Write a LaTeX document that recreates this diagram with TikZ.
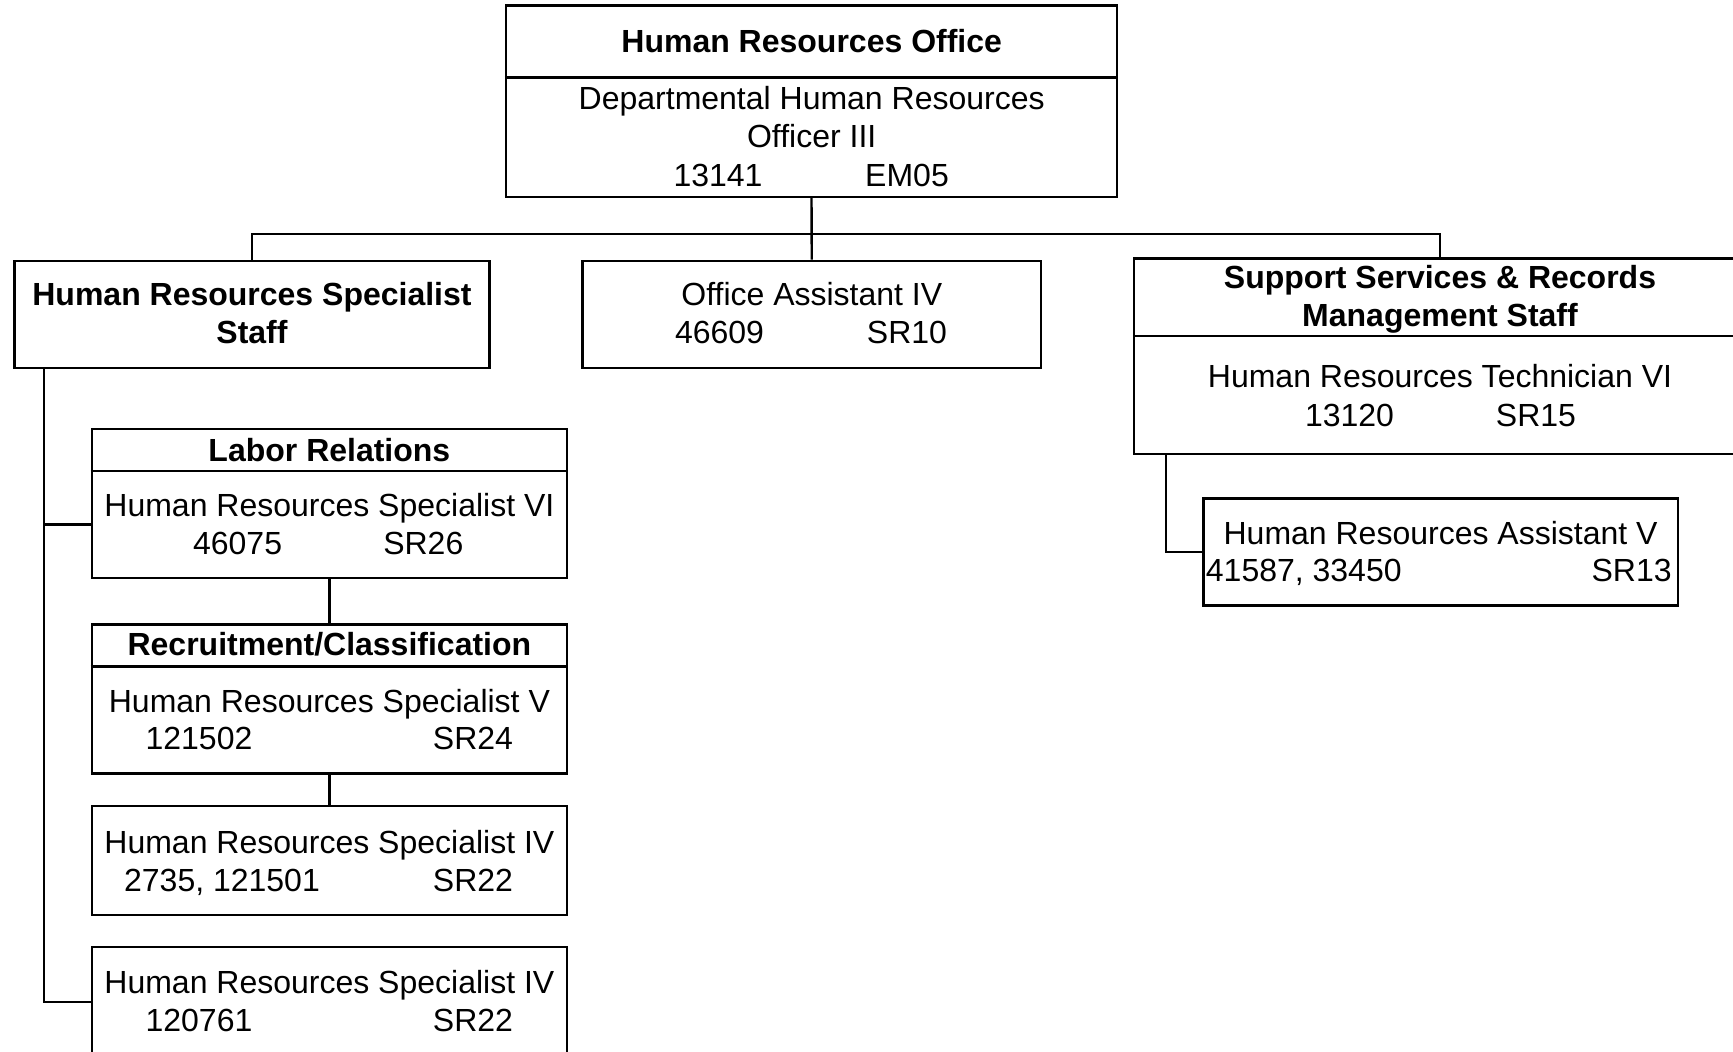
\documentclass[tikz,border=0pt]{standalone}
\usepackage{fontspec}
\setmainfont{Liberation Sans}
\usetikzlibrary{fit}
\begin{document}
\begin{tikzpicture}[x=0.5pt,y=-0.5pt,
  box/.style={draw,line width=1.2pt,inner sep=0pt,rectangle},
  conn/.style={line width=1.2pt},
  t/.style={inner sep=0pt,text height=0.72em,text depth=0pt,yshift=-2.2pt,font=\fontsize{16}{19}\selectfont},
  tb/.style={t,font=\fontsize{16}{19}\selectfont\bfseries},
  tl/.style={t,anchor=west},
  tr/.style={t,anchor=east}]
\clip (0,0) rectangle (1733,1052);
\fill[white] (0,0) rectangle (1733,1052);

% boxes
\node[box,fit={(506,5.5) (1117,197)}] (top) {};
\node[box,fit={(14.4,260.8) (489.6,368)}] (hrs) {};
\node[box,fit={(582.4,260.8) (1041.1,368)}] (oa) {};
\node[box,fit={(1134,258.6) (1746,454.2)}] (sup) {};
\node[box,fit={(91.7,428.8) (567,578)}] (lab) {};
\node[box,fit={(91.7,624.4) (567,773.6)}] (rec) {};
\node[box,fit={(91.7,805.7) (567,915.1)}] (iv) {};
\node[box,fit={(91.7,947.2) (567,1056.6)}] (last) {};
\node[box,fit={(1203.6,498.4) (1677.7,605.7)}] (asst) {};

% dividers
\draw[conn] (top.west |- 0,77.4) -- (top.east |- 0,77.4);
\draw[conn] (sup.west |- 0,336) -- (sup.east |- 0,336);
\draw[conn] (lab.west |- 0,470.8) -- (lab.east |- 0,470.8);
\draw[conn] (rec.west |- 0,666.4) -- (rec.east |- 0,666.4);

% connectors
\coordinate (bus) at (812,234.3);
\draw[conn] (top.south) -- (oa.north);
\draw[conn] (hrs.north) |- (bus) -| (sup.north);
\coordinate (spine) at (44.2,0);
\coordinate (labin) at (0,524.4);
\draw[conn] (hrs.south -| spine) |- (last.west);
\draw[conn] (spine |- labin) -- (lab.west |- labin);
\draw[conn] (lab.south) -- (rec.north);
\draw[conn] (rec.south) -- (iv.north);
\coordinate (sspine) at (1166,0);
\draw[conn] (sup.south -| sspine) |- (asst.west);

% texts
\node[tb] (t1) at (811.7,41) {Human Resources Office};
\node[t] (t2) at (811.7,98.4) {Departmental Human Resources};
\node[t] (t3) at (811.7,136) {Officer III};
\node[t] (t4) at (718,174.6) {13141};
\node[t] (t5) at (907,174.6) {EM05};

\node[tb] (h1) at (252,294) {Human Resources Specialist};
\node[tb] (h2) at (252,331.6) {Staff};

\node[t] (o1) at (811.8,294) {Office Assistant IV};
\node[t] (o2) at (719.5,331.6) {46609};
\node[t] (o3) at (907,331.6) {SR10};

\node[tb] (s1) at (1440,277.4) {Support Services \& Records};
\node[tb] (s2) at (1440,315) {Management Staff};
\node[t] (s3) at (1440,375.8) {Human Resources Technician VI};
\node[t] (s4) at (1349.5,414.5) {13120};
\node[t] (s5) at (1536,414.5) {SR15};

\node[t] (a1) at (1440.6,532.7) {Human Resources Assistant V};
\node[tl] (a2) at (1205.5,570.3) {41587, 33450};
\node[tr] (a3) at (1672,570.3) {SR13};

\node[tb] (l1) at (329.4,449.8) {Labor Relations};
\node[t] (l2) at (329.4,505) {Human Resources Specialist VI};
\node[t] (l3) at (237.6,542.7) {46075};
\node[t] (l4) at (423.3,542.7) {SR26};

\node[tb] (r1) at (329.4,644.3) {Recruitment/Classification};
\node[t] (r2) at (329.4,700.7) {Human Resources Specialist V};
\node[t] (r3) at (199,738.3) {121502};
\node[t] (r4) at (473,738.3) {SR24};

\node[t] (i1) at (329.4,842.2) {Human Resources Specialist IV};
\node[t] (i2) at (222,879.7) {2735, 121501};
\node[t] (i3) at (473,879.7) {SR22};

\node[t] (q1) at (329.4,981.4) {Human Resources Specialist IV};
\node[t] (q2) at (199,1020.1) {120761};
\node[t] (q3) at (473,1020.1) {SR22};
\end{tikzpicture}
\end{document}
